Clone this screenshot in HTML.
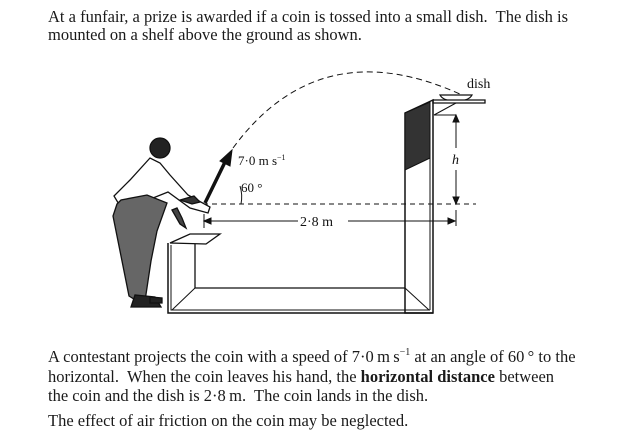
<!DOCTYPE html>
<html><head><meta charset="utf-8"><style>
html,body{margin:0;padding:0;background:#fff;}
body{width:624px;height:439px;position:relative;overflow:hidden;font-family:"Liberation Serif",serif;font-size:16.5px;color:#1a1a1a;}
.t{position:absolute;left:48px;white-space:nowrap;line-height:18px;}
sup{font-size:10px;line-height:0;position:relative;top:-1px;vertical-align:super;}
svg{position:absolute;left:0;top:0;}
</style></head><body>
<div class="t" style="top:8px">At a funfair, a prize is awarded if a coin is tossed into a small dish.&nbsp; The dish is</div>
<div class="t" style="top:26px">mounted on a shelf above the ground as shown.</div>
<div class="t" style="top:348px">A contestant projects the coin with a speed of 7·0&thinsp;m&thinsp;s<sup>−1</sup> at an angle of 60&thinsp;° to the</div>
<div class="t" style="top:368px">horizontal.&nbsp; When the coin leaves his hand, the <b>horizontal distance</b> between</div>
<div class="t" style="top:387px">the coin and the dish is 2·8&thinsp;m.&nbsp; The coin lands in the dish.</div>
<div class="t" style="top:412px">The effect of air friction on the coin may be neglected.</div>
<svg width="624" height="439" viewBox="0 0 624 439" font-family="Liberation Serif, serif" fill="none" stroke="#111">
<path d="M233,148 Q320,30 462,95" stroke-dasharray="6,4" stroke-width="1"/>
<line x1="203" y1="204" x2="476" y2="204" stroke-dasharray="5,4" stroke-width="1"/>
<line x1="204" y1="221" x2="298" y2="221" stroke-width="1"/>
<line x1="348" y1="221" x2="455" y2="221" stroke-width="1"/>
<line x1="204" y1="214" x2="204" y2="228"/>
<line x1="456" y1="210" x2="456" y2="226"/>
<path d="M204,221 l7,-3 v6z M455,221 l-7,-3 v6z" fill="#111"/>
<text x="300" y="226" font-size="14" fill="#111" stroke="none">2·8 m</text>
<line x1="456" y1="115" x2="456" y2="148"/>
<line x1="456" y1="170" x2="456" y2="203"/>
<path d="M456,115 l-3,7 h6z M456,204 l-3,-7 h6z" fill="#111"/>
<text x="452" y="164" font-size="14" font-style="italic" fill="#111" stroke="none">h</text>
<text x="467" y="88" font-size="14" fill="#111" stroke="none">dish</text>
<path d="M440,95 h32 q-3,6 -16,6 q-13,0 -16,-6z" fill="#fff" stroke-width="1.2"/>
<path d="M433,100 h52 v3 h-52z" fill="#fff" stroke-width="1.3"/>
<path d="M434,115 l22,-12" stroke-width="1"/>
<line x1="434" y1="115" x2="456" y2="115" stroke-width="1"/>
<path d="M405,113 l28,-13 v213 h-28z" stroke-width="1.5"/>
<line x1="430" y1="102" x2="430" y2="310" stroke-width="1"/>
<path d="M405,113 l25,-11 v56 l-25,12z" fill="#333"/>
<path d="M168,243 v70 h265" stroke-width="1.5"/>
<path d="M171,245 v65 h259" stroke-width="1"/>
<path d="M195,240 v48 h210" stroke-width="1.3"/>
<line x1="195" y1="288" x2="172" y2="310" stroke-width="1"/>
<line x1="405" y1="288" x2="429" y2="310" stroke-width="1"/>
<path d="M170,243 l20,-9 h30 l-14,10z" fill="#fff" stroke-width="1.3"/>
<line x1="205" y1="203" x2="226" y2="160" stroke-width="3.5"/>
<path d="M232,150 l-12,11 l10,5z" fill="#111"/>
<path d="M240,186 A36,36 0 0 1 241,204" stroke-width="1"/>
<text x="238" y="165" font-size="13" fill="#111" stroke="none">7·0 m s<tspan font-size="8" dy="-5">−1</tspan></text>
<text x="241" y="192" font-size="13" fill="#111" stroke="none">60 °</text>
<g stroke-width="1.3" fill="#fff">
<circle cx="160" cy="148" r="10" fill="#222"/>
<path d="M150,158 l-20,22 l-16,16 l6,10 l28,-6 l20,-8 l22,16 l18,5 l2,-6 l-22,-12 l-18,-20 l-10,-12z"/>
<path d="M117,204 l-4,12 l16,80 l8,5 h8 l6,-40 l6,-30 l10,-28 l-20,-8 l-26,5z" fill="#666"/>
<path d="M172,210 l8,14 l6,4 l-4,-10 l-5,-10z" fill="#444"/>
<path d="M135,295 l-4,12 h30 l-6,-10z" fill="#222"/>
<path d="M150,297 l0,6 h12 v-5z" fill="#222"/>
<path d="M180,200 l12,4 l8,-2 l-6,-6z" fill="#333"/>
</g>
</svg>
</body></html>
